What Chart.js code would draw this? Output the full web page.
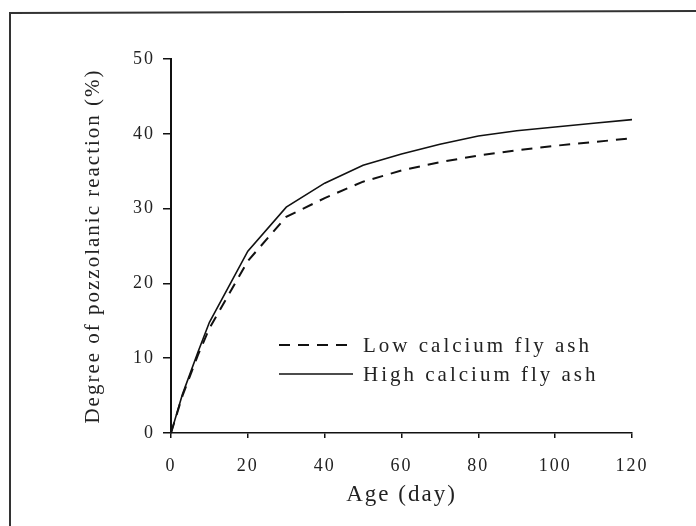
<!DOCTYPE html>
<html>
<head>
<meta charset="utf-8">
<script src="https://cdn.jsdelivr.net/npm/chart.js@4.4.0/dist/chart.umd.min.js"></script>
<style>
  html, body { margin: 0; padding: 0; background: #fff; }
  #wrap { width: 696px; height: 526px; }
</style>
</head>
<body>
<div id="wrap"><canvas id="chart" width="696" height="526"></canvas></div>
<script>
// values
const ageDays = [0, 3, 7, 10, 20, 30, 40, 50, 60, 70, 80, 90, 100, 110, 120];
const lowCalcium = [0, 5.0, 10.4, 14.0, 23.0, 28.9, 31.4, 33.6, 35.1, 36.2, 37.1, 37.8, 38.4, 38.9, 39.4];
const highCalcium = [0, 5.2, 10.8, 14.8, 24.3, 30.2, 33.4, 35.8, 37.3, 38.6, 39.7, 40.4, 40.9, 41.4, 41.9];
const seriesLabels = ['Low calcium fly ash', 'High calcium fly ash'];
const xTicks = [0, 20, 40, 60, 80, 100, 120];
const yTicks = [0, 10, 20, 30, 40, 50];

const serif = 'Liberation Serif, Times New Roman, serif';
const ink = '#222';

function toPoints(xs, ys) {
    return xs.map((x, i) => ({ x: x, y: ys[i] }));
}

// page frame of the scanned figure + slight letter spacing for the wide scan look
const framePlugin = {
    id: 'frame',
    beforeDraw(chart) {
        const ctx = chart.ctx;
        ctx.save();
        ctx.strokeStyle = '#333';
        ctx.lineWidth = 2;
        ctx.beginPath();
        ctx.moveTo(10, 526);
        ctx.lineTo(10, 13);
        ctx.lineTo(696, 11);
        ctx.stroke();
        ctx.restore();
        ctx.letterSpacing = '2px';
    }
};

// legend sits inside the plot area
const insideLegend = {
    id: 'insideLegend',
    afterDraw(chart) {
        const ctx = chart.ctx;
        const rows = [345, 374];
        ctx.save();
        ctx.letterSpacing = '3px';
        chart.data.datasets.forEach((ds, i) => {
            const y = rows[i];
            ctx.strokeStyle = ds.borderColor;
            ctx.lineWidth = ds.borderWidth;
            ctx.setLineDash(ds.borderDash || []);
            ctx.beginPath();
            ctx.moveTo(279, y);
            ctx.lineTo(353, y);
            ctx.stroke();
            ctx.setLineDash([]);
            ctx.fillStyle = ink;
            ctx.font = '21px ' + serif;
            ctx.textBaseline = 'middle';
            ctx.textAlign = 'left';
            ctx.fillText(ds.label, 363, y + 1);
        });
        ctx.restore();
    }
};

new Chart(document.getElementById('chart'), {
    type: 'line',
    data: {
        datasets: [
            {
                label: seriesLabels[0],
                data: toPoints(ageDays, lowCalcium),
                borderColor: '#111',
                borderWidth: 2,
                borderDash: [11, 8],
                pointRadius: 0,
                tension: 0,
                fill: false
            },
            {
                label: seriesLabels[1],
                data: toPoints(ageDays, highCalcium),
                borderColor: '#111',
                borderWidth: 1.6,
                pointRadius: 0,
                tension: 0,
                fill: false
            }
        ]
    },
    options: {
        responsive: false,
        animation: false,
        events: [],
        layout: { padding: { top: 59, right: 64, left: 0, bottom: 0 } },
        plugins: {
            legend: { display: false },
            tooltip: { enabled: false }
        },
        scales: {
            x: {
                type: 'linear',
                min: 0,
                max: 120,
                afterBuildTicks(scale) { scale.ticks = xTicks.map(v => ({ value: v })); },
                afterFit(scale) { scale.height = 93; },
                grid: { drawOnChartArea: false, drawTicks: true, tickLength: 5, color: '#111', lineWidth: 1.5 },
                border: { display: true, color: '#111', width: 1.5 },
                ticks: { color: ink, font: { family: serif, size: 18 }, padding: 17, maxRotation: 0 },
                title: {
                    display: true,
                    text: 'Age (day)',
                    color: ink,
                    font: { family: serif, size: 23 },
                    padding: { top: 0, bottom: 17 }
                }
            },
            y: {
                type: 'linear',
                min: 0,
                max: 50,
                afterBuildTicks(scale) { scale.ticks = yTicks.map(v => ({ value: v })); },
                afterFit(scale) { scale.width = 171; },
                grid: { drawOnChartArea: false, drawTicks: true, tickLength: 8, color: '#111', lineWidth: 1.5 },
                border: { display: true, color: '#111', width: 2 },
                ticks: { color: ink, font: { family: serif, size: 18 }, padding: 8 },
                title: {
                    display: true,
                    text: 'Degree of pozzolanic reaction (%)',
                    color: ink,
                    font: { family: serif, size: 21 },
                    padding: { top: 81, bottom: 0 }
                }
            }
        }
    },
    plugins: [framePlugin, insideLegend]
});
</script>
</body>
</html>
